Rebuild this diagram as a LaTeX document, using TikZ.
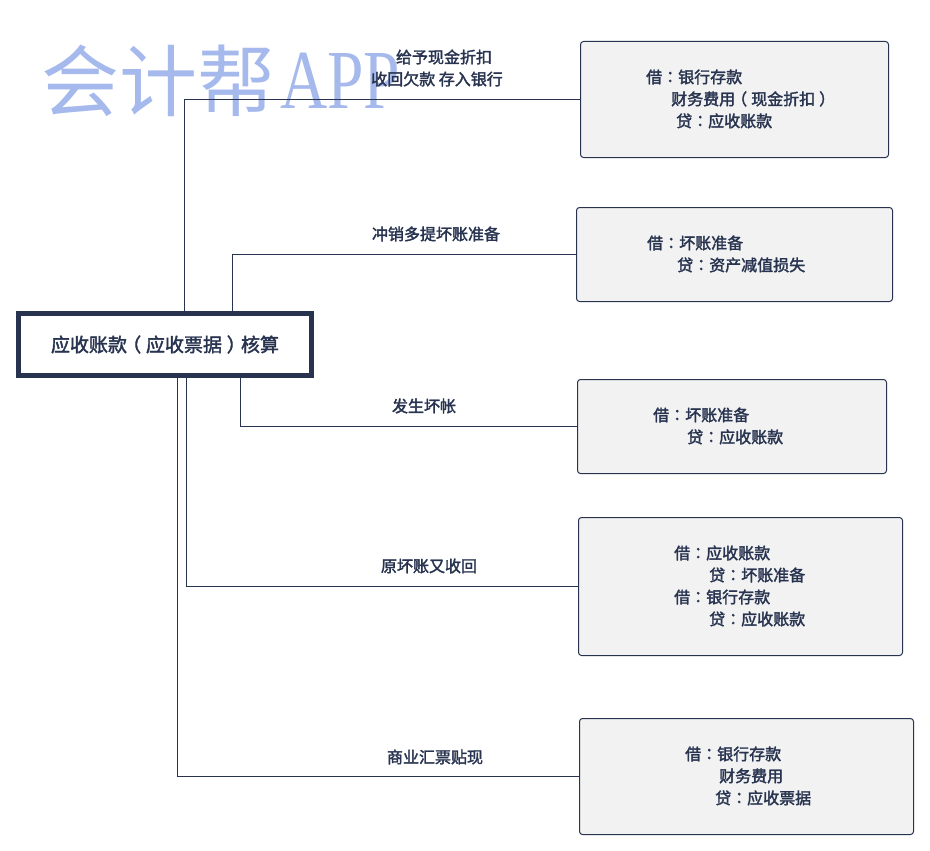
\documentclass[tikz,border=0pt]{standalone}
\usepackage{fontspec}
\usepackage{graphicx}
\setmainfont{Noto Sans CJK SC}[FakeBold=2]
\newfontfamily\cjktc{Noto Sans CJK TC}[FakeBold=2]
\newfontfamily\markcjk{Noto Sans CJK SC}
\newfontfamily\marklatin{Liberation Serif}
\newcommand{\cln}{{\cjktc ：}}
\newcommand{\lp}{\kern-.25em （\kern.25em}
\newcommand{\rp}{\kern.25em ）\kern-.25em}
\definecolor{ink}{HTML}{27334F}
\definecolor{wash}{HTML}{A6B9EC}
\definecolor{panel}{HTML}{F2F2F2}
\tikzset{
  entrybox/.style={draw=ink, fill=panel, line width=1pt, rounded corners=3pt, minimum height=0pt, inner sep=0pt, outer sep=0pt},
  entrytext/.style={draw=none, text=ink, font=\fontsize{16}{22}\selectfont, align=left, anchor=west, inner sep=0pt},
  linktext/.style={draw=none, text=ink, font=\fontsize{16}{22}\selectfont, align=center, inner sep=0pt},
  link/.style={draw=ink, line width=1pt},
}
\begin{document}
\begin{tikzpicture}[x=1pt, y=-1pt]
             \useasboundingbox (0,0) rectangle (930,851);

             % watermark
             \node[draw=none, text=wash, anchor=west, inner sep=0pt, font=\fontsize{78}{78}\markcjk] (markcn) at (41, 81) {会计帮};
             \node[draw=none, text=wash, anchor=west, inner sep=0pt, font=\fontsize{84}{84}\marklatin] (markapp) at (280, 81) {\scalebox{0.78}[1]{APP}};

             \node[draw=ink, line width=5pt, minimum width=293pt, minimum height=62pt, inner sep=0pt, text=ink, font=\fontsize{19}{22}\selectfont] (main) at (165, 344.5) {应收账款\lp 应收票据\rp 核算};

             \node[entrybox, minimum width=308pt, minimum height=116pt] (yinhang) at (734.5, 99.5) {};
             \node[entrybox, minimum width=316pt, minimum height=94pt] (chongxiao) at (734.5, 254.5) {};
             \node[entrybox, minimum width=309pt, minimum height=94pt] (huaizhang) at (732, 426.5) {};
             \node[entrybox, minimum width=324pt, minimum height=138pt] (shouhui) at (740.5, 586.5) {};
             \node[entrybox, minimum width=334pt, minimum height=116pt] (tiexian) at (746.5, 776.5) {};

             \node[entrytext] (yinhangtxt) at (646, 99) {借\cln 银行存款\\\hspace*{25pt}财务费用\lp 现金折扣\rp\\\hspace*{30pt}贷\cln 应收账款};
             \node[entrytext] (chongxiaotxt) at (647, 254) {借\cln 坏账准备\\\hspace*{30pt}贷\cln 资产减值损失};
             \node[entrytext] (huaizhangtxt) at (653, 426) {借\cln 坏账准备\\\hspace*{34pt}贷\cln 应收账款};
             \node[entrytext] (shouhuitxt) at (674, 586) {借\cln 应收账款\\\hspace*{35pt}贷\cln 坏账准备\\借\cln 银行存款\\\hspace*{35pt}贷\cln 应收账款};
             \node[entrytext] (tiexiantxt) at (685, 776) {借\cln 银行存款\\\hspace*{34pt}财务费用\\\hspace*{30pt}贷\cln 应收票据};

             \coordinate (bend1) at (184.5, 99.5);
             \coordinate (bend2) at (232.5, 254.5);
             \coordinate (bend3) at (240.5, 426.5);
             \coordinate (bend4) at (186.5, 586.5);
             \coordinate (bend5) at (177.5, 776.5);

             \draw[link] (main.north -| bend1) -- (bend1) -- (yinhang.west);
             \draw[link] (main.north -| bend2) -- (bend2) -- (chongxiao.west);
             \draw[link] (main.south -| bend3) -- (bend3) -- (huaizhang.west);
             \draw[link] (main.south -| bend4) -- (bend4) -- (shouhui.west);
             \draw[link] (main.south -| bend5) -- (bend5) -- (tiexian.west);

             \node[linktext] (yinhanglbl) at (437, 68) {\hspace*{14pt}给予现金折扣\\收回欠款 存入银行};
             \node[linktext] (chongxiaolbl) at (436, 234) {冲销多提坏账准备};
             \node[linktext] (huaizhanglbl) at (424, 406) {发生坏帐};
             \node[linktext] (shouhuilbl) at (429, 566) {原坏账又收回};
             \node[linktext] (tiexianlbl) at (435, 757) {商业汇票贴现};
\end{tikzpicture}
\end{document}
